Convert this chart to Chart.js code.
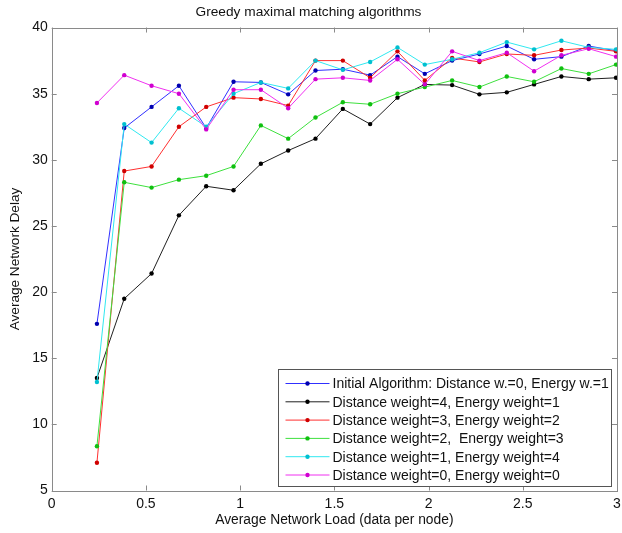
<!DOCTYPE html>
<html>
<head>
<meta charset="utf-8">
<script src="https://cdn.jsdelivr.net/npm/chart.js@4.4.1/dist/chart.umd.min.js"></script>
<style>
  html, body { margin: 0; padding: 0; background: #fff; }
  #wrap { width: 622px; height: 533px; }
</style>
</head>
<body>
<div id="wrap"><canvas id="c" width="622" height="533"></canvas></div>
<script>
const loads = [0.24, 0.385, 0.53, 0.675, 0.82, 0.965, 1.11, 1.255, 1.4, 1.545,
               1.69, 1.835, 1.98, 2.125, 2.27, 2.415, 2.56, 2.705, 2.85, 2.995];

const seriesNames = [
  "Initial Algorithm: Distance w.=0, Energy w.=1",
  "Distance weight=4, Energy weight=1",
  "Distance weight=3, Energy weight=2",
  "Distance weight=2,  Energy weight=3",
  "Distance weight=1, Energy weight=4",
  "Distance weight=0, Energy weight=0",
];

const initialAlg = [17.6, 32.4, 34.0, 35.6, 32.4, 35.9, 35.85, 34.95, 36.75, 36.85,
                    36.4, 37.8, 36.5, 37.5, 38.0, 38.6, 37.6, 37.8, 38.6, 38.25];
const dist4en1 = [13.5, 19.5, 21.4, 25.8, 28.0, 27.7, 29.7, 30.7, 31.6, 33.85,
                  32.7, 34.7, 35.7, 35.65, 34.95, 35.1, 35.7, 36.3, 36.1, 36.2];
const dist3en2 = [7.1, 29.15, 29.5, 32.5, 34.0, 34.7, 34.6, 34.1, 37.5, 37.5,
                  36.2, 38.2, 36.0, 37.7, 37.4, 38.0, 37.9, 38.3, 38.45, 38.2];
const dist2en3 = [8.35, 28.3, 27.9, 28.5, 28.8, 29.5, 32.6, 31.6, 33.2, 34.35,
                  34.2, 35.0, 35.5, 36.0, 35.5, 36.3, 35.9, 36.9, 36.5, 37.2];
const dist1en4 = [13.2, 32.7, 31.3, 33.9, 32.5, 35.0, 35.85, 35.4, 37.5, 36.8,
                  37.4, 38.5, 37.2, 37.6, 38.1, 38.9, 38.35, 39.0, 38.5, 38.35];
const dist0en0 = [34.3, 36.4, 35.6, 35.0, 32.3, 35.3, 35.3, 33.9, 36.1, 36.2,
                  36.0, 37.6, 35.7, 38.2, 37.5, 38.1, 36.7, 37.9, 38.4, 37.8];

const allSeries = [initialAlg, dist4en1, dist3en2, dist2en3, dist1en4, dist0en0];
const lineColors = ["#3030ff", "#202020", "#ff3030", "#3ee03e", "#30e8f0", "#f030f0"];
const dotColors = ["#0000b0", "#000000", "#d00000", "#10c010", "#00c0d0", "#d000d0"];

const FONT = "'Liberation Sans', Arial, sans-serif";

const datasets = allSeries.map((vals, i) => ({
  label: seriesNames[i],
  data: vals.map((v, k) => ({ x: loads[k], y: v })),
  borderColor: lineColors[i],
  backgroundColor: dotColors[i],
  pointBackgroundColor: dotColors[i],
  pointBorderColor: dotColors[i],
  borderWidth: 1,
  pointRadius: 2.2,
  pointBorderWidth: 0,
  tension: 0,
  order: allSeries.length - i,
}));

// matlab-like box with inward ticks
const framePlugin = {
  id: "frame",
  afterDatasetsDraw(chart) {
    const { ctx, chartArea: a, scales } = chart;
    ctx.save();
    ctx.strokeStyle = "#8a8a8a";
    ctx.lineWidth = 1;
    ctx.strokeRect(Math.round(a.left) + 0.5, Math.round(a.top) + 0.5,
                   Math.round(a.right - a.left), Math.round(a.bottom - a.top));
    const tl = 5;
    ctx.beginPath();
    scales.x.ticks.forEach(t => {
      const px = Math.round(scales.x.getPixelForValue(t.value)) + 0.5;
      ctx.moveTo(px, a.bottom); ctx.lineTo(px, a.bottom - tl);
      ctx.moveTo(px, a.top); ctx.lineTo(px, a.top + tl);
    });
    scales.y.ticks.forEach(t => {
      const py = Math.round(scales.y.getPixelForValue(t.value)) + 0.5;
      ctx.moveTo(a.left, py); ctx.lineTo(a.left + tl, py);
      ctx.moveTo(a.right, py); ctx.lineTo(a.right - tl, py);
    });
    ctx.stroke();
    ctx.restore();
  },
};

const boxLegend = {
  id: "boxLegend",
  afterDraw(chart) {
    const { ctx, chartArea: a } = chart;
    const bx = Math.round(a.right - 339) + 0.5;
    const by = Math.round(a.bottom - 122) + 0.5;
    const bw = 333, bh = 117;
    ctx.save();
    ctx.fillStyle = "#fff";
    ctx.fillRect(bx, by, bw, bh);
    ctx.strokeStyle = "#555";
    ctx.lineWidth = 1;
    ctx.strokeRect(bx, by, bw, bh);
    ctx.font = "14px " + FONT;
    ctx.textBaseline = "middle";
    chart.data.datasets.forEach((ds, i) => {
      const y = by + 14 + i * 18.3;
      ctx.strokeStyle = ds.borderColor;
      ctx.beginPath();
      ctx.moveTo(bx + 7, y); ctx.lineTo(bx + 51, y);
      ctx.stroke();
      ctx.fillStyle = ds.pointBackgroundColor;
      ctx.beginPath();
      ctx.arc(bx + 29, y, 2.2, 0, Math.PI * 2);
      ctx.fill();
      ctx.fillStyle = "#111";
      ctx.fillText(ds.label, bx + 54, y + 1);
    });
    ctx.restore();
  },
};

new Chart(document.getElementById("c"), {
  type: "line",
  data: { datasets },
  plugins: [framePlugin, boxLegend],
  options: {
    responsive: false,
    animation: false,
    layout: { padding: { left: 0, right: 5, top: 0, bottom: 0 } },
    plugins: {
      legend: { display: false },
      tooltip: { enabled: false },
      title: {
        display: true,
        text: "Greedy maximal matching algorithms",
        color: "#111",
        font: { family: FONT, size: 13.7, weight: "normal" },
        padding: { top: 4.5, bottom: 6.6 },
      },
    },
    scales: {
      x: {
        type: "linear",
        min: 0,
        max: 3,
        ticks: { stepSize: 0.5, color: "#111", padding: 5, maxRotation: 0,
                 font: { family: FONT, size: 14 },
                 callback: v => String(Math.round(v * 10) / 10) },
        grid: { display: false, drawTicks: false },
        border: { display: false },
        title: {
          display: true,
          text: "Average Network Load (data per node)",
          color: "#111",
          font: { family: FONT, size: 13.8 },
          padding: { top: 0, bottom: 4.5 },
        },
        afterFit(s) { s.height = 42.5; s.paddingRight = 0; },
      },
      y: {
        type: "linear",
        min: 5,
        max: 40,
        ticks: { stepSize: 5, color: "#111", padding: 4,
                 font: { family: FONT, size: 14 } },
        grid: { display: false, drawTicks: false },
        border: { display: false },
        title: {
          display: true,
          text: "Average Network Delay",
          color: "#111",
          font: { family: FONT, size: 13.6 },
          padding: { top: 7, bottom: 0 },
        },
        afterFit(s) { s.width = 51.7; },
      },
    },
  },
});
</script>
</body>
</html>
